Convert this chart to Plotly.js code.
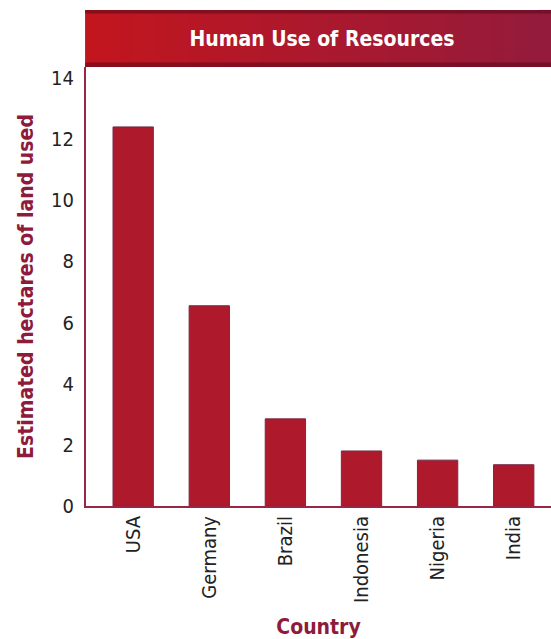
<!DOCTYPE html>
<html>
<head>
<meta charset="utf-8">
<script src="https://cdn.plot.ly/plotly-3.0.1.min.js"></script>
<style>html,body{margin:0;padding:0;background:#fff;}#chart{width:551px;height:639px;}</style>
</head>
<body>
<div id="chart"></div>
<script>
// Data
const countries = ["USA", "Germany", "Brazil", "Indonesia", "Nigeria", "India"];
const hectares = [12.4, 6.55, 2.85, 1.8, 1.5, 1.35];
const yTicks = [0, 2, 4, 6, 8, 10, 12, 14];
const chartTitle = "Human Use of Resources";
const yTitle = "Estimated hectares of land used";
const xTitle = "Country";

const FONT = "'Liberation Sans Narrow', 'DejaVu Sans Condensed', 'Arial Narrow', sans-serif";
const MAROON = "#8e1a3c";

// Banner gradient strips
function mix(a, b, t) {
  const pa = [parseInt(a.slice(1,3),16), parseInt(a.slice(3,5),16), parseInt(a.slice(5,7),16)];
  const pb = [parseInt(b.slice(1,3),16), parseInt(b.slice(3,5),16), parseInt(b.slice(5,7),16)];
  return "rgb(" + pa.map((v,i)=>Math.round(v+(pb[i]-v)*t)).join(",") + ")";
}
const shapes = [];
const bx0 = -0.002, bx1 = 1.0, by0 = 1.0, by1 = 1.13;
const N = 40;
for (let i = 0; i < N; i++) {
  const t = i / (N - 1);
  shapes.push({type: "rect", xref: "paper", yref: "paper", layer: "above",
    x0: bx0 + (bx1 - bx0) * i / N, x1: Math.min(bx1, bx0 + (bx1 - bx0) * (i + 1) / N + 0.01),
    y0: by0, y1: by1, line: {width: 0}, fillcolor: mix("#c2161f", "#941b3b", t)});
}
// darker edges of banner
shapes.push({type: "rect", xref: "paper", yref: "paper", layer: "above",
  x0: bx0, x1: bx1, y0: by1 - 0.008, y1: by1, line: {width: 0}, fillcolor: "rgba(90,10,25,0.55)"});
shapes.push({type: "rect", xref: "paper", yref: "paper", layer: "above",
  x0: bx0, x1: bx1, y0: by0, y1: by0 + 0.01, line: {width: 0}, fillcolor: "rgba(90,10,25,0.55)"});

const trace = {
  type: "bar",
  x: countries,
  y: hectares,
  width: 0.53,
  marker: {color: "#ae1a2b", line: {color: "#74294a", width: 1}},
  hoverinfo: "x+y"
};

const layout = {
  width: 551, height: 639,
  margin: {l: 86, r: 0, t: 67, b: 133, pad: 0},
  paper_bgcolor: "#ffffff", plot_bgcolor: "#ffffff",
  showlegend: false,
  font: {family: FONT, color: "#222222", size: 20},
  title: {text: "<b>" + chartTitle + "</b>", x: 322/551, xanchor: "center", xref: "container",
          y: 1 - 39/639, yanchor: "middle", yref: "container",
          font: {family: FONT, size: 21, color: "#ffffff"}},
  xaxis: {
    type: "category",
    range: [-0.62, 5.49],
    showgrid: false, zeroline: false,
    showline: true, linecolor: "#9b2545", linewidth: 2,
    ticks: "", tickangle: -90,
    tickfont: {family: FONT, size: 20, color: "#222222"},
    title: {text: "<b>" + xTitle + "</b>", standoff: 22, font: {family: FONT, size: 21, color: MAROON}}
  },
  yaxis: {
    range: [0, 14.36],
    tickvals: yTicks,
    showgrid: false, zeroline: false,
    showline: true, linecolor: "#9b2545", linewidth: 2,
    ticks: "", ticklabelstandoff: 6,
    tickfont: {family: FONT, size: 20, color: "#222222"},
    title: {text: "<b>" + yTitle + "</b>", standoff: 12, font: {family: FONT, size: 21, color: MAROON}}
  },
  shapes: shapes
};

Plotly.newPlot("chart", [trace], layout, {displayModeBar: false, staticPlot: true});
</script>
</body>
</html>
